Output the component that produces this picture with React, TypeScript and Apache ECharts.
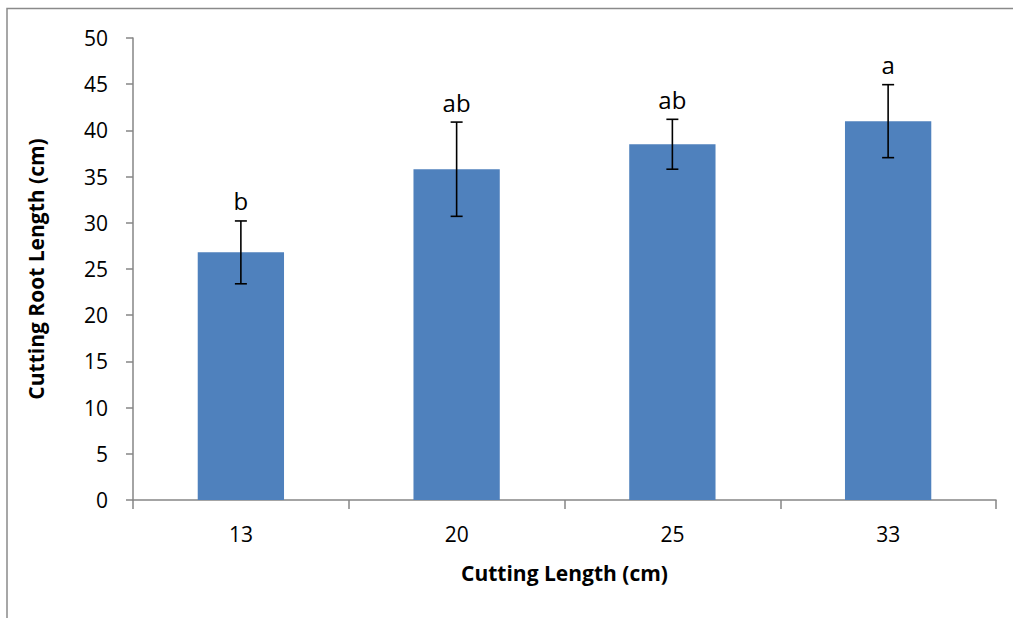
import React, { useEffect, useRef } from "react";
import * as echarts from "echarts";

const categories = ["13", "20", "25", "33"];
const means = [26.8, 35.8, 38.5, 41.0];
const errors = [3.4, 5.1, 2.7, 3.95];
const letters = ["b", "ab", "ab", "a"];

const FONT = "'Open Sans', 'Liberation Sans', sans-serif";

export default function App() {
  const ref = useRef<HTMLDivElement>(null);
  useEffect(() => {
    document.body.style.margin = "0";
    const chart = echarts.init(ref.current!, undefined, { renderer: "svg" });
    const errData = means.map((m, i) => [i, m - errors[i], m + errors[i], letters[i]]);
    chart.setOption({
      animation: false,
      textStyle: { fontFamily: FONT },
      graphic: [
        {
          type: "rect",
          shape: { x: 7, y: 8.5, width: 1020, height: 620 },
          style: { fill: "none", stroke: "#8a8a8a", lineWidth: 1.5 },
          silent: true,
        },
      ],
      grid: { left: 133, right: 17, top: 38, bottom: 118 },
      xAxis: {
        type: "category",
        data: categories,
        name: "Cutting Length (cm)",
        nameLocation: "middle",
        nameGap: 62,
        nameTextStyle: { fontSize: 21, fontWeight: "bold", color: "#000", fontFamily: FONT },
        axisLine: { lineStyle: { color: "#868686", width: 1.5 } },
        axisTick: { show: true, length: 9, lineStyle: { color: "#868686", width: 1.5 } },
        axisLabel: { fontSize: 21, color: "#000", margin: 23, fontFamily: FONT },
        splitLine: { show: false },
      },
      yAxis: {
        type: "value",
        min: 0,
        max: 50,
        interval: 5,
        name: "Cutting Root Length (cm)",
        nameLocation: "middle",
        nameGap: 87,
        nameTextStyle: { fontSize: 21, fontWeight: "bold", color: "#000", fontFamily: FONT },
        axisLine: { show: true, lineStyle: { color: "#868686", width: 1.5 } },
        axisTick: { show: true, length: 7, lineStyle: { color: "#868686", width: 1.5 } },
        axisLabel: { fontSize: 21, color: "#000", margin: 25, fontFamily: FONT },
        splitLine: { show: false },
      },
      series: [
        {
          type: "bar",
          data: means,
          barWidth: "40%",
          itemStyle: { color: "#4F81BD" },
        },
        {
          type: "custom",
          data: errData,
          z: 10,
          renderItem: (params: any, api: any) => {
            const x = api.value(0);
            const lo = api.coord([x, api.value(1)]);
            const hi = api.coord([x, api.value(2)]);
            const cap = 6;
            const style = { stroke: "#000", lineWidth: 1.6 };
            return {
              type: "group",
              children: [
                { type: "line", shape: { x1: hi[0], y1: hi[1], x2: lo[0], y2: lo[1] }, style },
                { type: "line", shape: { x1: hi[0] - cap, y1: hi[1], x2: hi[0] + cap, y2: hi[1] }, style },
                { type: "line", shape: { x1: lo[0] - cap, y1: lo[1], x2: lo[0] + cap, y2: lo[1] }, style },
                {
                  type: "text",
                  x: hi[0],
                  y: hi[1] - 8,
                  style: {
                    text: letters[params.dataIndex],
                    fontSize: 24,
                    fontFamily: FONT,
                    fill: "#000",
                    align: "center",
                    verticalAlign: "bottom",
                  },
                },
              ],
            };
          },
        },
      ],
    });
    return () => chart.dispose();
  }, []);
  return <div ref={ref} style={{ width: 1013, height: 618 }} />;
}
